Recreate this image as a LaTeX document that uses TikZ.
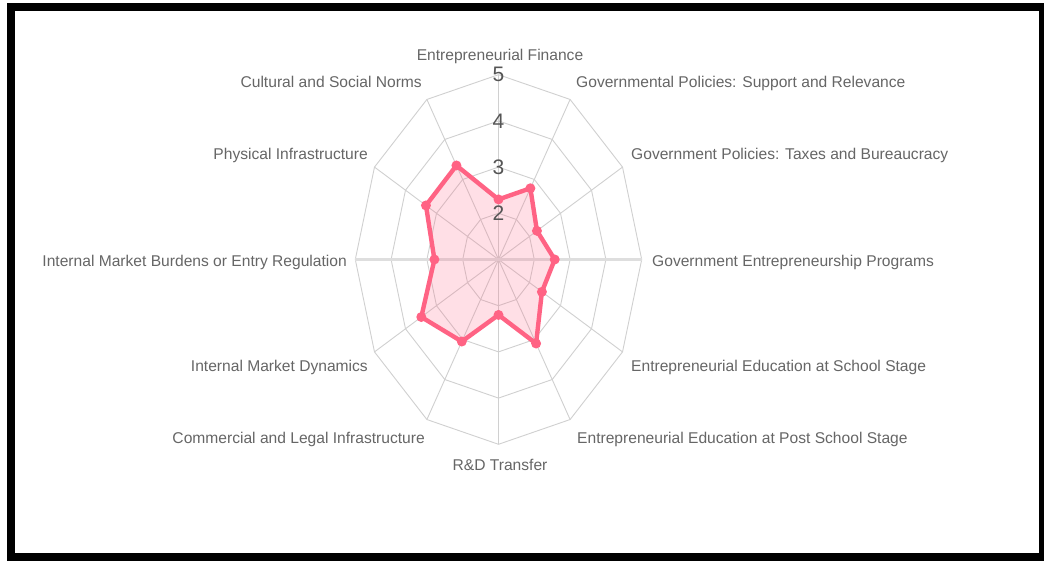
\documentclass[tikz,border=0pt]{standalone}
\usepackage{fontspec}
\setmainfont{Liberation Sans}
\usetikzlibrary{positioning}

\definecolor{gridgray}{RGB}{208,208,208}
\definecolor{axisgray}{RGB}{222,222,222}
\definecolor{labelgray}{RGB}{102,102,102}
\definecolor{tickgray}{RGB}{85,85,85}
\definecolor{chartpink}{RGB}{255,99,132}

\tikzset{
  gridline/.style={draw=gridgray, line width=0.9pt},
  axislabel/.style={text=labelgray, inner sep=0pt, font=\fontsize{15.6}{18}\selectfont},
  ticklabel/.style={text=tickgray, inner sep=0pt, font=\fontsize{21}{24}\selectfont},
  dataline/.style={draw=chartpink, line width=4.4pt, line join=round, fill=chartpink, fill opacity=0.2, draw opacity=1},
  datadot/.style={circle, fill=chartpink, inner sep=0pt, minimum size=10pt}
}

\begin{document}
\begin{tikzpicture}[x=1pt, y=1pt]
    \useasboundingbox (0,0) rectangle (1044,561);

    % Frame
    \fill[black] (7,0) rectangle (1044,558);
    \fill[white] (15,8) rectangle (1039,550);

    \begin{scope}[shift={(498.5,301.5)}, x=35.8pt, y=46.2pt]
        % Rings
        \foreach \r in {1,2,3,4}
            \draw[gridline] (90:\r) \foreach \a in {60,30,...,-240} { -- (\a:\r) } -- cycle;

        % Spokes
        \foreach \a in {0,30,...,330}
            \draw[gridline] (0,0) -- (\a:4);
        \draw[axisgray, line width=2.6pt] (180:4) -- (0:4);

        % Data (scores)
        \foreach \v [count=\i from 0] in {1.3,1.78,1.24,1.57,1.4,2.1,1.2,2.05,2.49,1.79,2.34,2.35}
            \coordinate (p\i) at ({90-30*\i}:\v);
        \draw[dataline] (p0) -- (p1) -- (p2) -- (p3) -- (p4) -- (p5) -- (p6)
            -- (p7) -- (p8) -- (p9) -- (p10) -- (p11) -- cycle;
        \foreach \i in {0,...,11}
            \node[datadot] (dot\i) at (p\i) {};

        % Scale
        \node[ticklabel] (t2) at (0,1.0) {2};
        \node[ticklabel] (t3) at (0,2.0) {3};
        \node[ticklabel] (t4) at (0,3.0) {4};
        \node[ticklabel] (t5) at (0,4.0) {5};
    \end{scope}

    % Labels
    \node[axislabel] (ef) at (500,505) {Entrepreneurial Finance};
    \node[axislabel, anchor=west] (gps) at (576,478) {Governmental Policies: Support and Relevance};
    \node[axislabel, anchor=west] (gpt) at (631,406) {Government Policies: Taxes and Bureaucracy};
    \node[axislabel, anchor=west] (gep) at (652,299) {Government Entrepreneurship Programs};
    \node[axislabel, anchor=west] (ees) at (631,194) {Entrepreneurial Education at School Stage};
    \node[axislabel, anchor=west] (eep) at (577,122) {Entrepreneurial Education at Post School Stage};
    \node[axislabel] (rd) at (500,96) {R\&D Transfer};
    \node[axislabel, anchor=east] (cli) at (425,122) {Commercial and Legal Infrastructure};
    \node[axislabel, anchor=east] (imd) at (368,194) {Internal Market Dynamics};
    \node[axislabel, anchor=east] (imb) at (347,299) {Internal Market Burdens or Entry Regulation};
    \node[axislabel, anchor=east] (pi) at (368,406) {Physical Infrastructure};
    \node[axislabel, anchor=east] (csn) at (422,479) {Cultural and Social Norms};
\end{tikzpicture}
\end{document}
